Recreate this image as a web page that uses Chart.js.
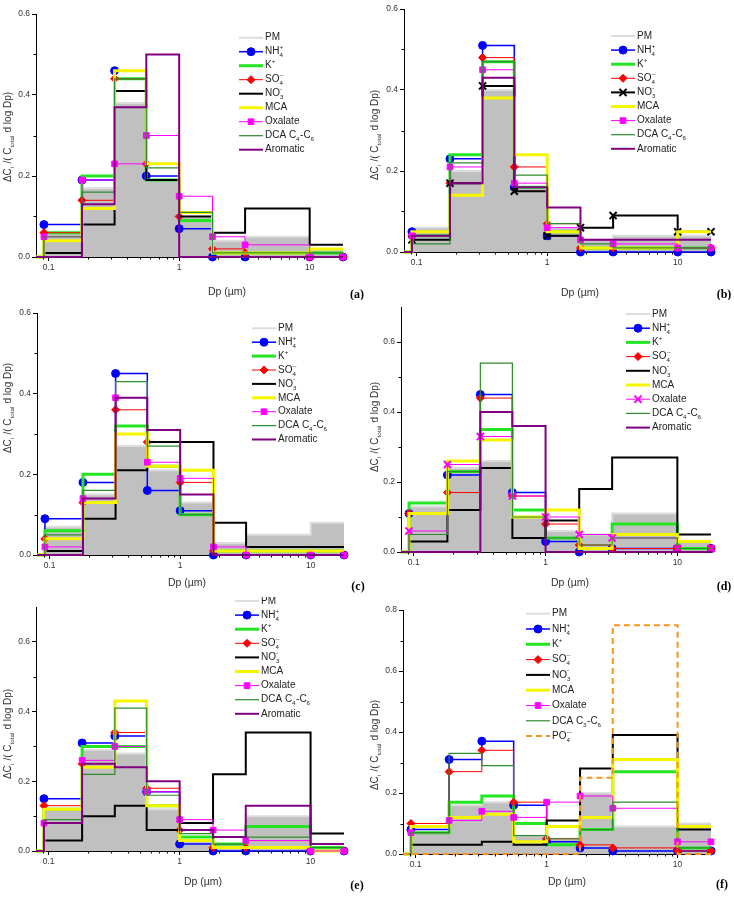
<!DOCTYPE html>
<html>
<head>
<meta charset="utf-8">
<script src="https://cdn.jsdelivr.net/npm/chart.js@4.4.1/dist/chart.umd.min.js"></script>
<style>
  body { margin: 0; background: #fff; }
  #fig { position: relative; width: 734px; height: 897px; overflow: hidden; }
  #fig canvas { position: absolute; }
</style>
</head>
<body>
<div id="fig"></div>
<script>
// bin edges (um); first edge is only the lead-in, last bin is 10-18
const binEdges = [0.056, 0.092, 0.18, 0.32, 0.56, 1.0, 1.8, 3.2, 10, 18];
const xMajor = [0.1, 1, 10];
const xMinor = [0.09, 0.2, 0.3, 0.4, 0.5, 0.6, 0.7, 0.8, 0.9, 2, 3, 4, 5, 6, 7, 8, 9];

// (a)
const pmA  = [0.06, 0.17, 0.38, 0.19, 0.10, 0.04, 0.05, 0.02];
const nh4A = [0.08, 0.19, 0.46, 0.20, 0.07, 0.00, 0.00, 0.00];
const kA   = [0.06, 0.20, 0.44, 0.19, 0.09, 0.01, 0.01, 0.01];
const so4A = [0.06, 0.14, 0.44, 0.23, 0.10, 0.02, 0.01, 0.00];
const no3A = [0.01, 0.08, 0.41, 0.19, 0.10, 0.06, 0.12, 0.03];
const mcaA = [0.04, 0.12, 0.46, 0.23, 0.11, 0.01, 0.01, 0.02];
const oxaA = [0.05, 0.19, 0.23, 0.30, 0.15, 0.05, 0.03, 0.00];
const dcaA = [0.05, 0.16, 0.44, 0.22, 0.11, 0.01, 0.01, 0.01];
const aroA = [0.00, 0.13, 0.37, 0.50, 0.00, 0.00, 0.00, 0.00];

// (b)
const pmB  = [0.06, 0.20, 0.40, 0.16, 0.06, 0.03, 0.04, 0.04];
const nh4B = [0.05, 0.23, 0.51, 0.16, 0.04, 0.00, 0.00, 0.00];
const kB   = [0.04, 0.24, 0.47, 0.16, 0.05, 0.01, 0.01, 0.01];
const so4B = [0.04, 0.17, 0.48, 0.21, 0.07, 0.01, 0.01, 0.01];
const no3B = [0.03, 0.17, 0.41, 0.15, 0.04, 0.06, 0.09, 0.05];
const mcaB = [0.05, 0.14, 0.38, 0.24, 0.05, 0.01, 0.01, 0.05];
const oxaB = [0.04, 0.21, 0.45, 0.17, 0.06, 0.03, 0.02, 0.01];
const dcaB = [0.02, 0.22, 0.47, 0.19, 0.07, 0.02, 0.01, 0.01];
const aroB = [0.04, 0.17, 0.43, 0.16, 0.11, 0.03, 0.03, 0.03];

// (c)
const pmC  = [0.07, 0.15, 0.27, 0.21, 0.13, 0.03, 0.05, 0.08];
const nh4C = [0.09, 0.18, 0.45, 0.16, 0.11, 0.00, 0.00, 0.00];
const kC   = [0.06, 0.20, 0.32, 0.22, 0.10, 0.01, 0.01, 0.01];
const so4C = [0.04, 0.13, 0.36, 0.28, 0.18, 0.01, 0.00, 0.00];
const no3C = [0.01, 0.09, 0.21, 0.28, 0.28, 0.08, 0.02, 0.02];
const mcaC = [0.04, 0.13, 0.30, 0.22, 0.21, 0.01, 0.01, 0.01];
const oxaC = [0.02, 0.14, 0.39, 0.23, 0.19, 0.02, 0.00, 0.00];
const dcaC = [0.05, 0.16, 0.43, 0.27, 0.10, 0.00, 0.00, 0.00];
const aroC = [0.00, 0.14, 0.39, 0.31, 0.15, 0.00, 0.00, 0.00];

// (d)
const pmD  = [0.13, 0.24, 0.26, 0.10, 0.06, 0.05, 0.11, 0.03];
const nh4D = [0.11, 0.22, 0.45, 0.17, 0.03, 0.00, 0.01, 0.01];
const kD   = [0.14, 0.23, 0.35, 0.12, 0.04, 0.01, 0.08, 0.01];
const so4D = [0.11, 0.17, 0.44, 0.16, 0.08, 0.02, 0.01, 0.01];
const no3D = [0.03, 0.12, 0.24, 0.04, 0.09, 0.18, 0.27, 0.05];
const mcaD = [0.11, 0.26, 0.32, 0.10, 0.12, 0.01, 0.05, 0.03];
const oxaD = [0.06, 0.25, 0.33, 0.16, 0.10, 0.05, 0.04, 0.01];
const dcaD = [0.05, 0.23, 0.54, 0.10, 0.04, 0.02, 0.04, 0.01];
const aroD = [0.00, 0.00, 0.40, 0.36, 0.00, 0.00, 0.00, 0.00];

// (e)
const pmE  = [0.12, 0.29, 0.28, 0.12, 0.03, 0.02, 0.10, 0.01];
const nh4E = [0.15, 0.31, 0.33, 0.17, 0.02, 0.00, 0.00, 0.00];
const kE   = [0.12, 0.30, 0.30, 0.13, 0.04, 0.02, 0.07, 0.01];
const so4E = [0.13, 0.25, 0.34, 0.18, 0.06, 0.01, 0.01, 0.00];
const no3E = [0.03, 0.10, 0.13, 0.06, 0.08, 0.22, 0.34, 0.05];
const mcaE = [0.12, 0.24, 0.43, 0.13, 0.03, 0.01, 0.01, 0.00];
const oxaE = [0.08, 0.26, 0.30, 0.17, 0.09, 0.06, 0.03, 0.00];
const dcaE = [0.09, 0.22, 0.41, 0.16, 0.05, 0.02, 0.04, 0.01];
const aroE = [0.08, 0.25, 0.24, 0.20, 0.06, 0.04, 0.13, 0.02];

// (f)
const pmF  = [0.07, 0.16, 0.17, 0.06, 0.05, 0.20, 0.09, 0.10];
const nh4F = [0.08, 0.31, 0.37, 0.16, 0.04, 0.02, 0.01, 0.01];
const kF   = [0.07, 0.17, 0.19, 0.10, 0.03, 0.08, 0.27, 0.02];
const so4F = [0.10, 0.27, 0.34, 0.17, 0.05, 0.03, 0.02, 0.01];
const no3F = [0.03, 0.03, 0.04, 0.03, 0.11, 0.28, 0.39, 0.08];
const mcaF = [0.09, 0.12, 0.13, 0.04, 0.09, 0.12, 0.31, 0.09];
const oxaF = [0.07, 0.11, 0.14, 0.12, 0.17, 0.19, 0.15, 0.04];
const dcaF = [0.07, 0.33, 0.29, 0.06, 0.05, 0.08, 0.17, 0.02];
const po4F = [0.00, 0.00, 0.00, 0.00, 0.00, 0.25, 0.75, 0.00];

const FONT = '"Liberation Sans", Arial, Helvetica, sans-serif';
Chart.defaults.font.family = FONT;

const styles = {
  PM:       { label: 'PM', color: '#dcdcdc', width: 2, fill: '#c0c0c0' },
  NH4:      { label: 'NH_{4}^{+}', color: '#0000ff', width: 1.5, marker: 'circle', r: 4 },
  K:        { label: 'K^{+}', color: '#22e622', width: 3 },
  SO4:      { label: 'SO_{4}^{--}', color: '#ff0000', width: 1, marker: 'rectRot', r: 4 },
  NO3:      { label: 'NO_{3}^{-}', color: '#000000', width: 2 },
  MCA:      { label: 'MCA', color: '#f5f500', width: 3 },
  Oxalate:  { label: 'Oxalate', color: '#ff00ff', width: 1, marker: 'rect', r: 4 },
  DCA:      { label: 'DCA C_{4}-C_{6}', color: '#2e8b2e', width: 1.2 },
  Aromatic: { label: 'Aromatic', color: '#800080', width: 2 },
  PO4:      { label: 'PO_{4}^{---}', color: '#f7941d', width: 2, dash: [6, 4] }
};

const panels = [
  { letter: '(a)', left: 0, top: 0, ymax: 0.6, area: [36, 14, 343, 257], leg: [239, 37.7, 14.0],
    yTitleY: 137, xTitle: [227, 292], letterPos: [357, 295],
    series: [['PM', pmA], ['NH4', nh4A], ['K', kA], ['SO4', so4A], ['NO3', no3A], ['MCA', mcaA], ['Oxalate', oxaA], ['DCA', dcaA], ['Aromatic', aroA]] },
  { letter: '(b)', left: 367, top: 0, ymax: 0.6, area: [37, 9, 344, 252], leg: [244, 36, 14.1],
    yTitleY: 135, xTitle: [213, 293], letterPos: [357, 295], extra: { NO3: { marker: 'crossRot', r: 5 } },
    series: [['PM', pmB], ['NH4', nh4B], ['K', kB], ['SO4', so4B], ['NO3', no3B], ['MCA', mcaB], ['Oxalate', oxaB], ['DCA', dcaB], ['Aromatic', aroB]] },
  { letter: '(c)', left: 0, top: 300, ymax: 0.6, area: [37, 13, 344, 255], leg: [252, 28.3, 13.9],
    yTitleY: 108, xTitle: [187, 283], letterPos: [358, 287],
    series: [['PM', pmC], ['NH4', nh4C], ['K', kC], ['SO4', so4C], ['NO3', no3C], ['MCA', mcaC], ['Oxalate', oxaC], ['DCA', dcaC], ['Aromatic', aroC]] },
  { letter: '(d)', left: 367, top: 300, ymax: 0.7, area: [34, 6, 344, 252], leg: [259, 14, 14.2],
    yTitleY: 127, xTitle: [203, 283], letterPos: [357, 287], extra: { Oxalate: { marker: 'crossRot', r: 5 } },
    series: [['PM', pmD], ['NH4', nh4D], ['K', kD], ['SO4', so4D], ['NO3', no3D], ['MCA', mcaD], ['Oxalate', oxaD], ['DCA', dcaD], ['Aromatic', aroD]] },
  { letter: '(e)', left: 0, top: 597, ymax: 0.7, area: [36, 10, 344, 254], leg: [235, 4, 14.1],
    yTitleY: 137, xTitle: [203, 285], letterPos: [357, 289],
    series: [['PM', pmE], ['NH4', nh4E], ['K', kE], ['SO4', so4E], ['NO3', no3E], ['MCA', mcaE], ['Oxalate', oxaE], ['DCA', dcaE], ['Aromatic', aroE]] },
  { letter: '(f)', left: 367, top: 597, ymax: 0.8, area: [36, 13, 344, 257], leg: [159, 16.7, 15.3],
    yTitleY: 148, xTitle: [200, 285], letterPos: [355, 288], extra: { DCA: { label: 'DCA C_{3}-C_{6}' } },
    series: [['PM', pmF], ['NH4', nh4F], ['K', kF], ['SO4', so4F], ['NO3', no3F], ['MCA', mcaF], ['Oxalate', oxaF], ['DCA', dcaF], ['PO4', po4F]] }
];

const W = 367, H = 300;

// "NH_{4}^{+}" -> parts, sub and sup right after each other are stacked
function parseRich(s) {
  const out = [];
  let buf = '', i = 0;
  while (i < s.length) {
    const c = s[i];
    if ((c === '_' || c === '^') && s[i + 1] === '{') {
      if (buf) { out.push({ t: buf }); buf = ''; }
      const j = s.indexOf('}', i);
      const txt = s.slice(i + 2, j);
      const prev = out[out.length - 1];
      if (c === '^' && prev && prev.sub !== undefined && prev.sup === undefined) prev.sup = txt;
      else out.push(c === '_' ? { sub: txt } : { sup: txt });
      i = j + 1;
    } else { buf += c; i++; }
  }
  if (buf) out.push({ t: buf });
  return out;
}

function drawRich(ctx, s, x, y, size, align) {
  const parts = parseRich(s);
  const big = size + 'px ' + FONT, sm = (size * 0.62) + 'px ' + FONT;
  let w = 0;
  const widths = parts.map(p => {
    let pw;
    if (p.t !== undefined) { ctx.font = big; pw = ctx.measureText(p.t).width; }
    else {
      ctx.font = sm;
      pw = Math.max(p.sub ? ctx.measureText(p.sub).width : 0, p.sup ? ctx.measureText(p.sup).width : 0) + 0.5;
    }
    w += pw;
    return pw;
  });
  let cx = align === 'center' ? x - w / 2 : x;
  ctx.textAlign = 'left';
  ctx.textBaseline = 'middle';
  parts.forEach((p, i) => {
    if (p.t !== undefined) { ctx.font = big; ctx.fillText(p.t, cx, y); }
    else {
      ctx.font = sm;
      if (p.sub) ctx.fillText(p.sub, cx, y + size * 0.4);
      if (p.sup) ctx.fillText(p.sup, cx, y - size * 0.42);
    }
    cx += widths[i];
  });
}

function drawMarker(ctx, shape, x, y, r, color) {
  ctx.save();
  ctx.fillStyle = color; ctx.strokeStyle = color; ctx.lineWidth = 1;
  ctx.beginPath();
  if (shape === 'circle') ctx.arc(x, y, r, 0, Math.PI * 2);
  else if (shape === 'rectRot') { ctx.moveTo(x - r, y); ctx.lineTo(x, y - r); ctx.lineTo(x + r, y); ctx.lineTo(x, y + r); ctx.closePath(); }
  else if (shape === 'rect') { const h = r * Math.SQRT1_2; ctx.rect(x - h, y - h, 2 * h, 2 * h); }
  else if (shape === 'crossRot') {
    const h = r * Math.SQRT1_2;
    ctx.lineWidth = 2;
    ctx.moveTo(x - h, y - h); ctx.lineTo(x + h, y + h);
    ctx.moveTo(x + h, y - h); ctx.lineTo(x - h, y + h);
    ctx.stroke(); ctx.restore();
    return;
  }
  ctx.fill(); ctx.stroke();
  ctx.restore();
}

function styleFor(p, key) {
  return Object.assign({}, styles[key], (p.extra || {})[key]);
}

function makeExtras(p) {
  return {
    id: 'extras',
    afterDraw(chart) {
      const ctx = chart.ctx, a = chart.chartArea;
      const xs = chart.scales.x, ys = chart.scales.y;
      ctx.save();
      // minor ticks
      ctx.strokeStyle = '#000'; ctx.lineWidth = 1;
      ctx.beginPath();
      xMinor.forEach(v => {
        const px = Math.round(xs.getPixelForValue(v)) + 0.5;
        ctx.moveTo(px, a.bottom); ctx.lineTo(px, a.bottom + 2.5);
      });
      [0.1, 0.3, 0.5, 0.7].filter(v => v < p.ymax).forEach(v => {
        const py = Math.round(ys.getPixelForValue(v)) + 0.5;
        ctx.moveTo(a.left, py); ctx.lineTo(a.left - 2.5, py);
      });
      ctx.stroke();

      ctx.fillStyle = '#333';
      // y title
      ctx.save();
      ctx.translate(8, p.yTitleY);
      ctx.rotate(-Math.PI / 2);
      drawRich(ctx, '\u0394C_{i} /( C_{total} d log Dp)', 0, 0, 10, 'center');
      ctx.restore();
      // x title
      drawRich(ctx, 'Dp (\u00b5m)', p.xTitle[0], p.xTitle[1], 10.5, 'center');
      // panel letter
      ctx.fillStyle = '#000';
      ctx.font = 'bold 12px "Liberation Serif", "Times New Roman", serif';
      ctx.textAlign = 'center'; ctx.textBaseline = 'middle';
      ctx.fillText(p.letter, p.letterPos[0], p.letterPos[1]);

      // legend
      const [lx, ly, dy] = p.leg;
      p.series.forEach(([key], i) => {
        const st = styleFor(p, key);
        const y = ly + i * dy;
        ctx.save();
        ctx.strokeStyle = st.color; ctx.lineWidth = st.width;
        ctx.setLineDash(st.dash || []);
        ctx.beginPath(); ctx.moveTo(lx, y); ctx.lineTo(lx + 24, y); ctx.stroke();
        ctx.restore();
        if (st.marker) drawMarker(ctx, st.marker, lx + 12, y, st.r, st.color);
        ctx.fillStyle = '#222';
        drawRich(ctx, st.label, lx + 26, y, 10, 'left');
      });
      ctx.restore();
    }
  };
}

const fig = document.getElementById('fig');

panels.forEach(p => {
  const canvas = document.createElement('canvas');
  canvas.width = W; canvas.height = H;
  canvas.style.left = p.left + 'px'; canvas.style.top = p.top + 'px';
  canvas.style.width = W + 'px'; canvas.style.height = H + 'px';
  fig.appendChild(canvas);

  const n = p.series.length;
  const datasets = p.series.map(([key, vals], idx) => {
    const st = styleFor(p, key);
    const pts = binEdges.map((x, i) => ({ x, y: i === 0 ? 0 : vals[Math.min(i - 1, vals.length - 1)] }));
    return {
      label: key,
      data: pts,
      stepped: 'before',
      order: n - idx,
      borderColor: st.color,
      borderWidth: st.width,
      borderDash: st.dash || [],
      backgroundColor: st.fill || st.color,
      fill: st.fill ? 'origin' : false,
      pointStyle: st.marker || 'circle',
      pointRadius: st.marker ? st.r : 0,
      pointBackgroundColor: st.color,
      pointBorderColor: st.color,
      pointBorderWidth: st.marker === 'crossRot' ? 2 : 1,
      clip: { left: 0, top: 6, right: 6, bottom: 6 }
    };
  });

  const [al, at, ar, ab] = p.area;
  const axisGrid = { drawOnChartArea: false, drawTicks: true, tickLength: 4, color: '#000', tickColor: '#000' };
  const axisBorder = { display: true, color: '#000', width: 1 };
  const tickFont = { family: FONT, size: 8.5 };

  new Chart(canvas, {
    type: 'line',
    data: { datasets },
    options: {
      responsive: false,
      animation: false,
      events: [],
      layout: { padding: { top: at, right: W - ar, left: 0, bottom: 0 } },
      plugins: { legend: { display: false }, tooltip: { enabled: false } },
      scales: {
        x: {
          type: 'logarithmic', min: 0.08, max: 18,
          afterBuildTicks: s => { s.ticks = xMajor.map(v => ({ value: v })); },
          afterFit: s => { s.height = H - ab; },
          grid: axisGrid, border: axisBorder,
          ticks: { font: tickFont, color: '#333', padding: 2, maxRotation: 0, autoSkip: false, callback: v => String(v) }
        },
        y: {
          type: 'linear', min: 0, max: p.ymax,
          afterBuildTicks: s => { s.ticks = [0, 0.2, 0.4, 0.6, 0.8].filter(v => v <= p.ymax + 1e-9).map(v => ({ value: v })); },
          afterFit: s => { s.width = al; },
          grid: axisGrid, border: axisBorder,
          ticks: { font: tickFont, color: '#333', padding: 2, callback: v => Number(v).toFixed(1) }
        }
      }
    },
    plugins: [makeExtras(p)]
  });
});
</script>
</body>
</html>
